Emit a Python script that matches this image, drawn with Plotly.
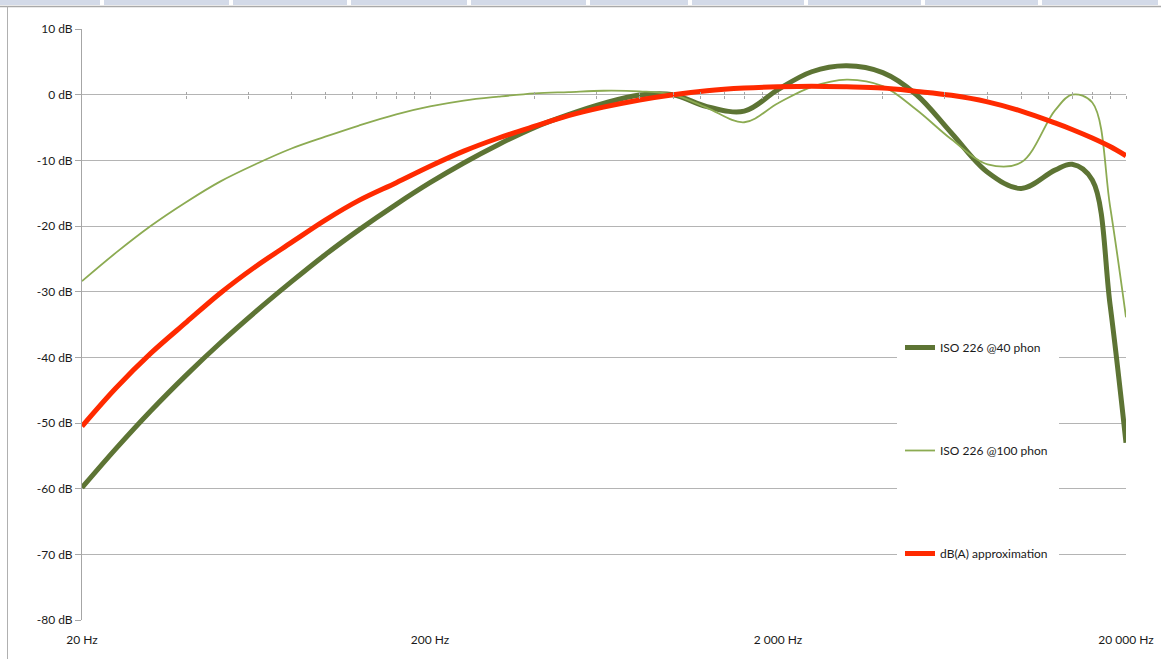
import plotly.graph_objects as go

# ---- data -------------------------------------------------------------
freq_hz = [20, 25, 31.5, 40, 50, 63, 80, 100, 125, 160, 200, 250, 315, 400,
           500, 630, 800, 1000, 1250, 1600, 2000, 2500, 3150, 4000, 5000,
           6300, 8000, 10000, 12500, 14000, 16000, 18000, 20000]

# inverted ISO 226 equal-loudness contour, 40 phon (dB re 1 kHz)
iso_40_phon = [-59.85, -53.94, -48.17, -42.63, -37.78, -33.08, -28.48, -24.37,
               -20.59, -16.70, -13.41, -10.40, -7.58, -4.98, -3.05, -1.34,
               -0.06, -0.01, -1.82, -2.51, 0.77, 3.49, 4.39, 3.35, -0.01,
               -5.83, -11.80, -14.28, -11.49, -10.6, -13.0, -32.0, -53.0]

# inverted ISO 226 equal-loudness contour, 100 phon (dB re 1 kHz)
iso_100_phon = [-28.4, -24.1, -20.0, -16.3, -13.2, -10.6, -8.2, -6.4, -4.7,
                -3.0, -1.8, -0.9, -0.3, 0.2, 0.4, 0.6, 0.5, 0.0, -2.0, -4.2,
                -1.3, 1.2, 2.3, 1.3, -2.3, -6.8, -10.6, -10.3, -2.4, 0.0,
                -1.2, -17.0, -33.9]

# A-weighting curve
dba_approx = [-50.5, -44.7, -39.4, -34.6, -30.2, -26.2, -22.5, -19.1, -16.1,
              -13.4, -10.9, -8.6, -6.6, -4.8, -3.2, -1.9, -0.8, 0.0, 0.6, 1.0,
              1.2, 1.3, 1.2, 1.0, 0.5, -0.1, -1.1, -2.5, -4.3, -5.3, -6.6,
              -7.9, -9.3]

series_names = ["ISO 226 @40 phon", "ISO 226 @100 phon", "dB(A) approximation"]

x_tick_vals = [20, 200, 2000, 20000]
x_tick_text = ["20 Hz", "200 Hz", "2 000 Hz", "20 000 Hz"]

# small ticks drawn along the 0 dB line
minor_tick_vals = [40, 60, 80, 100, 120, 140, 160, 180, 200,
                   400, 600, 800, 1000, 1200, 1400, 1600, 1800, 2000,
                   4000, 6000, 8000, 10000, 12000, 14000, 16000, 18000, 20000]

y_tick_vals = [10, 0, -10, -20, -30, -40, -50, -60, -70, -80]
y_tick_text = ["10 dB", "0 dB", "-10 dB", "-20 dB", "-30 dB", "-40 dB",
               "-50 dB", "-60 dB", "-70 dB", "-80 dB"]

# ---- page geometry ----------------------------------------------------
W, H = 1161, 659
ML, MR, MT, MB = 82, 35, 29, 39
PW, PH = W - ML - MR, H - MT - MB
Y_MIN, Y_MAX = -80, 10


def px_x(px):
    return (px - ML) / PW


def px_y(py):
    return (H - MB - py) / PH


FONT = "Lato, 'Open Sans', sans-serif"
GRID = "#b4b4b4"
AXIS = "#a6a6a6"

fig = go.Figure()

styles = [
    dict(color="#5d7434", width=5),
    dict(color="#8cab52", width=1.8),
    dict(color="#ff2a00", width=5),
]
for name, vals, st in zip(series_names, [iso_40_phon, iso_100_phon, dba_approx], styles):
    fig.add_trace(go.Scatter(
        x=freq_hz, y=vals, name=name, mode="lines",
        line=dict(color=st["color"], width=st["width"], shape="spline", smoothing=1),
        legendgroup=name, hoverinfo="x+y+name",
    ))

# carrier traces for the two overlay axes that draw the small ticks
for ax in ("x2", "x3"):
    fig.add_trace(go.Scatter(
        x=freq_hz, y=dba_approx, xaxis=ax, yaxis="y", mode="lines",
        line=dict(width=0, color="rgba(0,0,0,0)"), showlegend=False,
        hoverinfo="skip",
    ))

zero_pos = (0 - Y_MIN) / (Y_MAX - Y_MIN)
tick_axis = dict(
    type="log", range=[1.30103, 4.30103], overlaying="x", anchor="free",
    position=zero_pos, tickmode="array", tickvals=minor_tick_vals,
    showticklabels=False, showgrid=False, showline=False, zeroline=False,
    ticklen=3, tickwidth=1, tickcolor=AXIS, automargin=False,
)

fig.update_layout(
    width=W, height=H,
    margin=dict(l=ML, r=MR, t=MT, b=MB, autoexpand=False),
    paper_bgcolor="white", plot_bgcolor="white",
    font=dict(family=FONT, size=12, color="#1a1a1a"),
    xaxis=dict(
        type="log", range=[1.30103, 4.30103], automargin=False,
        tickmode="array", tickvals=x_tick_vals, ticktext=x_tick_text,
        showgrid=False, showline=False, zeroline=False,
        ticks="outside", ticklen=9, tickcolor="rgba(0,0,0,0)",
        tickfont=dict(family=FONT, size=12, color="#1a1a1a"),
    ),
    xaxis2=dict(tick_axis, ticks="outside"),
    xaxis3=dict(tick_axis, ticks="inside"),
    yaxis=dict(
        range=[Y_MIN, Y_MAX], tickmode="array", automargin=False,
        tickvals=y_tick_vals, ticktext=y_tick_text,
        showgrid=True, gridcolor=GRID, gridwidth=1,
        showline=True, linecolor=AXIS, linewidth=1,
        ticks="outside", ticklen=6, tickcolor=AXIS,
        zeroline=False,
        tickfont=dict(family=FONT, size=12, color="#1a1a1a"),
    ),
    legend=dict(
        x=px_x(900), y=px_y(333), xanchor="left", yanchor="top",
        bgcolor="white", borderwidth=0,
        font=dict(family=FONT, size=12, color="#1a1a1a"),
        tracegroupgap=84, itemwidth=30,
    ),
    showlegend=True,
)

# sheet frame: tab strip along the top, border lines
tab_edges = [(0, 100), (104, 229), (233, 347), (351, 467), (471, 586),
             (590, 688), (692, 804), (808, 921), (925, 1038), (1042, 1158)]
shapes = []
for a, b in tab_edges:
    shapes.append(dict(type="rect", xref="paper", yref="paper",
                       x0=px_x(a), x1=px_x(b), y0=px_y(5), y1=px_y(0),
                       fillcolor="#d3dae8", line=dict(width=0), layer="below"))
shapes.append(dict(type="line", xref="paper", yref="paper",
                   x0=px_x(0), x1=px_x(W), y0=px_y(6.5), y1=px_y(6.5),
                   line=dict(color="#a9a9a9", width=1.5)))
shapes.append(dict(type="line", xref="paper", yref="paper",
                   x0=px_x(7.5), x1=px_x(7.5), y0=px_y(6.5), y1=px_y(H),
                   line=dict(color="#b0b0b0", width=1)))
# white backing behind the legend, wider than its text
shapes.append(dict(type="rect", xref="paper", yref="paper",
                   x0=px_x(897), x1=px_x(1059), y0=px_y(590), y1=px_y(320),
                   fillcolor="white", line=dict(width=0), layer="above"))
fig.update_layout(shapes=shapes)

fig.write_html("out.html")
